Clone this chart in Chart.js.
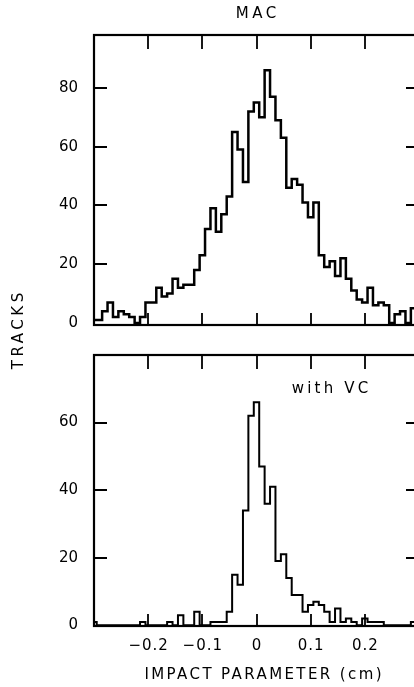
<!DOCTYPE html>
<html>
<head>
<meta charset="utf-8">
<script src="https://cdn.jsdelivr.net/npm/chart.js@4.4.1/dist/chart.umd.min.js"></script>
<style>
  html, body { margin: 0; padding: 0; background: #fff; }
  body { width: 414px; height: 687px; overflow: hidden; position: relative; }
  canvas { position: absolute; left: 0; }
  #topChart { top: 0; }
  #bottomChart { top: 330px; }
</style>
</head>
<body>
<canvas id="topChart" width="440" height="687"></canvas>
<canvas id="bottomChart" width="440" height="357"></canvas>
<script>
// Bin centres, impact parameter in cm (0.01 cm bins)
const binCentres = [
  -0.30, -0.29, -0.28, -0.27, -0.26, -0.25, -0.24, -0.23, -0.22, -0.21,
  -0.20, -0.19, -0.18, -0.17, -0.16, -0.15, -0.14, -0.13, -0.12, -0.11,
  -0.10, -0.09, -0.08, -0.07, -0.06, -0.05, -0.04, -0.03, -0.02, -0.01,
   0.00,  0.01,  0.02,  0.03,  0.04,  0.05,  0.06,  0.07,  0.08,  0.09,
   0.10,  0.11,  0.12,  0.13,  0.14,  0.15,  0.16,  0.17,  0.18,  0.19,
   0.20,  0.21,  0.22,  0.23,  0.24,  0.25,  0.26,  0.27,  0.28,  0.29, 0.30
];

// MAC alone (upper panel)
const macTracks = [
   1,  1,  4,  7,  2,  4,  3,  2,  0,  2,
   7,  7, 12,  9, 10, 15, 12, 13, 13, 18,
  23, 32, 39, 31, 37, 43, 65, 59, 48, 72,
  75, 70, 86, 77, 69, 63, 46, 49, 47, 41,
  36, 41, 23, 19, 21, 16, 22, 15, 11,  8,
   7, 12,  6,  7,  6,  0,  3,  4,  0,  5, 3
];

// with vertex chamber (lower panel)
const vcTracks = [
   1,  0,  0,  0,  0,  0,  0,  0,  0,  1,
   0,  0,  0,  0,  1,  0,  3,  0,  0,  4,
   0,  0,  1,  1,  1,  4, 15, 12, 34, 62,
  66, 47, 36, 41, 19, 21, 14,  9,  9,  4,
   6,  7,  6,  4,  1,  5,  1,  2,  1,  0,
   2,  1,  1,  1,  0,  0,  0,  0,  0,  1, 0
];

const xTicks = [-0.2, -0.1, 0, 0.1, 0.2];
const xTickLabels = ['\u22120.2', '\u22120.1', '0', '0.1', '0.2'];
const topYTicks = [0, 20, 40, 60, 80];
const bottomYTicks = [0, 20, 40, 60];

const FONT = '"DejaVu Sans", sans-serif';

// draw a string with extra letter spacing, centred on (x, y)
function spacedText(ctx, text, x, y, size, spacing, angle) {
  ctx.save();
  ctx.font = size + 'px ' + FONT;
  ctx.fillStyle = '#000';
  ctx.textAlign = 'center';
  ctx.textBaseline = 'middle';
  if ('letterSpacing' in ctx) ctx.letterSpacing = spacing + 'px';
  ctx.translate(x, y);
  if (angle) ctx.rotate(angle);
  ctx.fillText(text, spacing / 2, 0);
  ctx.restore();
}

// frame with inward ticks on all four sides, plus the free texts
const frameTicks = {
  id: 'frameTicks',
  afterDraw(chart, args, opts) {
    const { ctx, chartArea: a, scales: { x, y } } = chart;
    ctx.save();
    ctx.strokeStyle = '#000';
    ctx.lineWidth = 2.2;
    ctx.strokeRect(a.left, a.top, a.right - a.left, a.bottom - a.top);

    ctx.lineWidth = 1.8;
    ctx.beginPath();
    xTicks.forEach(v => {
      const px = Math.round(x.getPixelForValue(v));
      ctx.moveTo(px, a.top);
      ctx.lineTo(px, a.top + 14);
      ctx.moveTo(px, a.bottom);
      ctx.lineTo(px, a.bottom - 12);
    });
    opts.yTicks.forEach(v => {
      if (v === 0) return;
      const py = Math.round(y.getPixelForValue(v));
      ctx.moveTo(a.left, py);
      ctx.lineTo(a.left + 13, py);
      ctx.moveTo(a.right, py);
      ctx.lineTo(a.right - 13, py);
    });
    ctx.stroke();
    ctx.restore();

    if (opts.xLabels) {
      xTicks.forEach((v, i) => {
        spacedText(ctx, xTickLabels[i], x.getPixelForValue(v), a.bottom + 20, 15, 1);
      });
    }
    (opts.texts || []).forEach(t => {
      spacedText(ctx, t.text, t.x, t.y, t.size, t.spacing, t.angle);
    });
  }
};

function histConfig(values, yMin, yMax, yTicks, pad, lineWidth, extra) {
  return {
    type: 'line',
    data: {
      datasets: [{
        data: binCentres.map((c, i) => ({ x: c, y: values[i] })),
        stepped: 'middle',
        borderColor: '#000',
        borderWidth: lineWidth,
        borderJoinStyle: 'miter',
        pointRadius: 0,
        fill: false,
        clip: 0
      }]
    },
    options: {
      responsive: false,
      animation: false,
      events: [],
      layout: { padding: pad },
      plugins: {
        legend: { display: false },
        tooltip: { enabled: false },
        frameTicks: Object.assign({ yTicks: yTicks }, extra)
      },
      scales: {
        x: { type: 'linear', min: -0.3, max: 0.3, display: false },
        y: {
          min: yMin,
          max: yMax,
          afterFit: s => { s.width = 94; },
          afterBuildTicks: s => { s.ticks = yTicks.map(v => ({ value: v })); },
          grid: { display: false, drawTicks: false },
          border: { display: false },
          ticks: { color: '#000', padding: 16, font: { family: FONT, size: 15 } }
        }
      }
    },
    plugins: [frameTicks]
  };
}

new Chart(document.getElementById('topChart'), histConfig(
  macTracks, -0.7, 98, topYTicks,
  { top: 35, right: 21, bottom: 362, left: 0 }, 2.5,
  { texts: [
    { text: 'MAC', x: 256, y: 14, size: 15, spacing: 3.5 },
    { text: 'TRACKS', x: 19, y: 331, size: 15, spacing: 3.5, angle: -Math.PI / 2 }
  ] }
));

new Chart(document.getElementById('bottomChart'), histConfig(
  vcTracks, -0.2, 80, bottomYTicks,
  { top: 5, right: 21, bottom: 61, left: 0 }, 2,
  { xLabels: true, texts: [
    { text: 'with VC', x: 330, y: 59, size: 15, spacing: 3.2 },
    { text: 'IMPACT PARAMETER (cm)', x: 263, y: 345, size: 15, spacing: 2.4 }
  ] }
));
</script>
</body>
</html>
